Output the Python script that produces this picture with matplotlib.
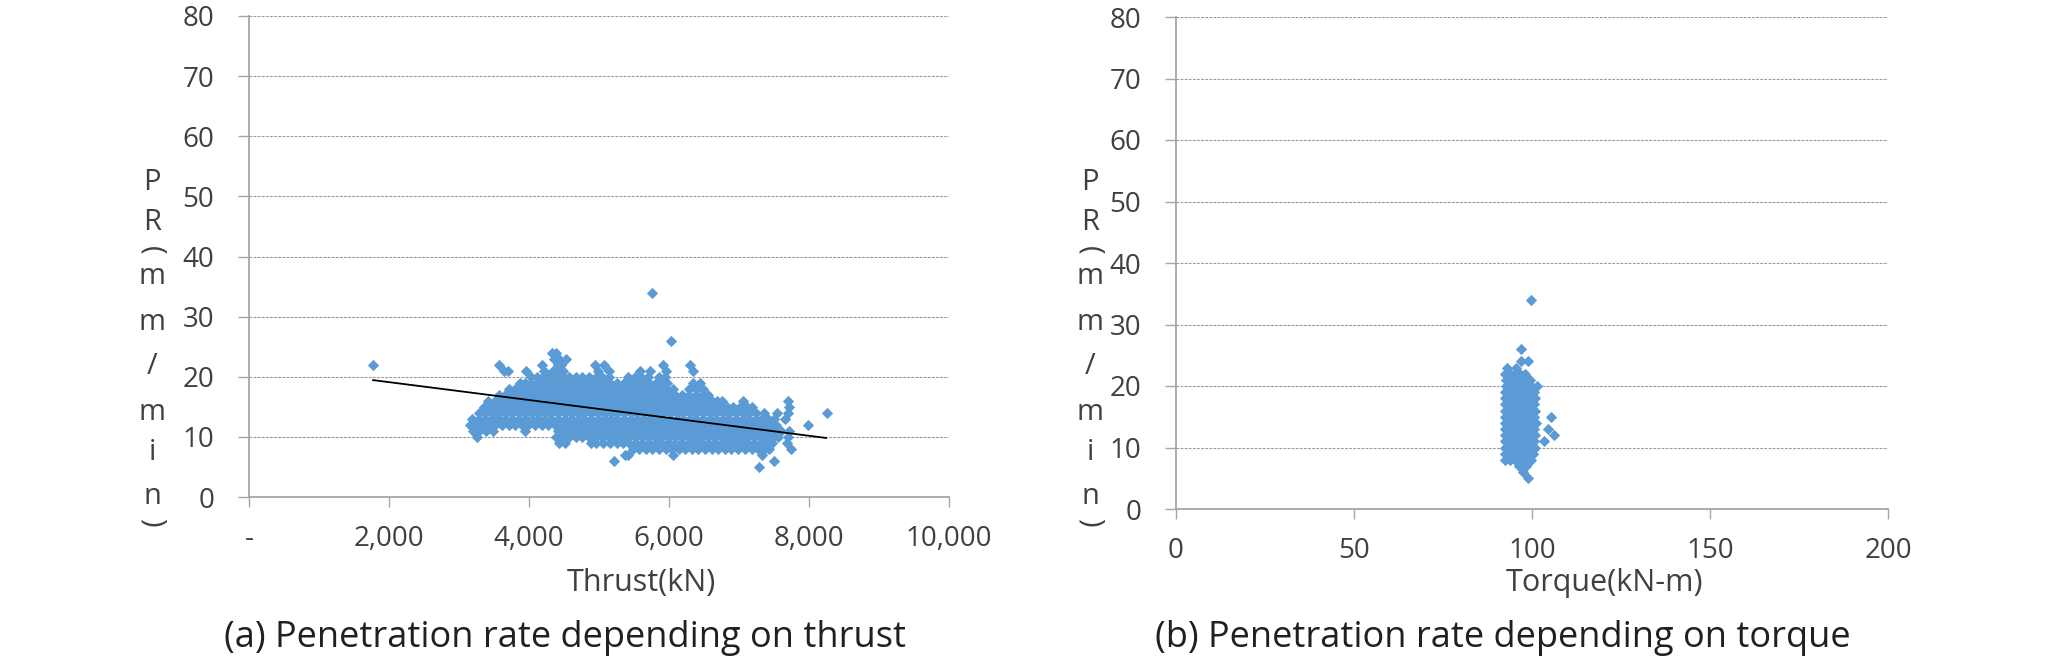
import numpy as np
import matplotlib
matplotlib.use('Agg')
import matplotlib.pyplot as plt

plt.rcParams['font.family'] = ['Open Sans', 'DejaVu Sans']

# ---------------- data: (a) thrust (kN) grouped by penetration rate (mm/min)
thrust_pr5 = [7280]
thrust_pr6 = [5220, 7500]
thrust_pr7 = [5370, 5410, 6050, 7330]
thrust_pr8 = [5480, 5570, 5670, 5760, 5850, 5950, 6040, 6140, 6230, 6330, 6420, 6510,
              6610, 6700, 6800, 6890, 6990, 7080, 7180, 7270, 7370, 7430, 7740]
thrust_pr9 = [4430, 4520, 4880, 4960, 5060, 5150, 5250, 5340, 5430, 5530, 5620, 5720,
              5810, 5900, 6000, 6090, 6190, 6280, 6380, 6470, 6560, 6660, 6750, 6850,
              6940, 7040, 7130, 7220, 7320, 7410, 7470, 7680]
thrust_pr10 = [3250, 4390, 4480, 4570, 4670, 4760, 4860, 4950, 5040, 5140, 5230, 5330,
               5420, 5510, 5610, 5700, 5800, 5890, 5980, 6080, 6170, 6270, 6360, 6450,
               6550, 6640, 6740, 6830, 6920, 7020, 7110, 7210, 7300, 7390, 7490, 7560,
               7700]
thrust_pr11 = [3200, 3290, 3390, 3480, 3940, 4420, 4520, 4610, 4710, 4800, 4900, 4990,
               5080, 5180, 5270, 5370, 5460, 5550, 5650, 5740, 5840, 5930, 6020, 6120,
               6210, 6310, 6400, 6490, 6590, 6680, 6780, 6870, 6960, 7060, 7150, 7250,
               7340, 7430, 7530, 7600, 7720]
thrust_pr12 = [3150, 3240, 3330, 3430, 3520, 3620, 3710, 3800, 3900, 3990, 4090, 4180,
               4270, 4370, 4460, 4560, 4650, 4740, 4840, 4930, 5030, 5120, 5210, 5310,
               5400, 5500, 5590, 5680, 5780, 5870, 5970, 6060, 6150, 6250, 6340, 6440,
               6530, 6620, 6720, 6810, 6910, 7000, 7090, 7190, 7280, 7380, 7470, 7530,
               7990]
thrust_pr13 = [3180, 3280, 3370, 3470, 3560, 3660, 3750, 3850, 3940, 4040, 4130, 4230,
               4320, 4410, 4510, 4600, 4700, 4790, 4890, 4980, 5070, 5170, 5260, 5360,
               5450, 5540, 5640, 5730, 5830, 5920, 6010, 6110, 6200, 6300, 6390, 6480,
               6580, 6670, 6770, 6860, 6950, 7050, 7140, 7240, 7330, 7420, 7500, 7660]
thrust_pr14 = [3290, 3380, 3480, 3570, 3670, 3760, 3850, 3950, 4040, 4140, 4230, 4320,
               4420, 4510, 4610, 4700, 4790, 4890, 4980, 5080, 5170, 5260, 5360, 5450,
               5550, 5640, 5730, 5830, 5920, 6020, 6110, 6200, 6300, 6390, 6490, 6580,
               6670, 6770, 6860, 6960, 7050, 7140, 7240, 7350, 7540, 7700, 8250]
thrust_pr15 = [3350, 3440, 3540, 3630, 3720, 3820, 3910, 4010, 4100, 4190, 4290, 4380,
               4480, 4570, 4660, 4760, 4850, 4950, 5040, 5130, 5230, 5320, 5420, 5510,
               5600, 5700, 5790, 5890, 5980, 6070, 6170, 6260, 6360, 6450, 6540, 6640,
               6730, 6830, 6920, 7010, 7110, 7190, 7710]
thrust_pr16 = [3410, 3510, 3600, 3700, 3790, 3880, 3980, 4070, 4170, 4260, 4350, 4450,
               4540, 4640, 4730, 4820, 4920, 5010, 5110, 5200, 5290, 5390, 5480, 5580,
               5670, 5760, 5860, 5950, 6050, 6140, 6230, 6330, 6420, 6520, 6610, 6680,
               6760, 7050, 7700]
thrust_pr17 = [3570, 3650, 3740, 3840, 3930, 4030, 4120, 4210, 4310, 4400, 4500, 4590,
               4680, 4780, 4870, 4970, 5060, 5150, 5250, 5340, 5440, 5530, 5620, 5720,
               5810, 5910, 6000, 6090, 6190, 6280, 6380, 6470, 6560]
thrust_pr18 = [3720, 3800, 3890, 3980, 4080, 4170, 4260, 4360, 4450, 4550, 4640, 4730,
               4830, 4920, 5020, 5110, 5200, 5300, 5390, 5490, 5580, 5670, 5770, 5860,
               5960, 6060, 6290, 6380, 6480]
thrust_pr19 = [3870, 3940, 4030, 4130, 4220, 4310, 4410, 4500, 4600, 4690, 4780, 4880,
               4970, 5070, 5160, 5250, 5350, 5440, 5540, 5630, 5720, 5820, 5910, 5970,
               6340, 6440]
thrust_pr20 = [4030, 4110, 4200, 4290, 4390, 4480, 4570, 4670, 4760, 4860, 4950, 5040,
               5140, 5420, 5510, 5600, 5700, 5850, 5940]
thrust_pr21 = [3640, 3700, 3960, 4220, 4340, 4420, 4490, 4990, 5140, 5590, 5730, 5960, 6340]
thrust_pr22 = [1773, 3573, 4190, 4410, 4460, 4940, 5070, 5920, 6300]
thrust_pr23 = [4360, 4430, 4530]
thrust_pr24 = [4330, 4390]
thrust_pr26 = [6030]
thrust_pr34 = [5760]

# linear trend line of (a)
trend_thrust = [1773, 8245]
trend_pr = [19.44, 9.82]

# ---------------- data: (b) torque (kN-m) grouped by penetration rate (mm/min)
torque_pr5 = [98.9]
torque_pr6 = [97.6]
torque_pr7 = [96.3, 98.2]
torque_pr8 = [92.3, 93.8, 95.2, 96.6, 98.0, 99.6]
torque_pr9 = [92.3, 93.6, 95.0, 96.4, 97.8, 99.2, 100.4]
torque_pr10 = [92.5, 93.9, 95.3, 96.7, 98.1, 99.5, 100.8]
torque_pr11 = [92.3, 93.6, 95.0, 96.4, 97.8, 99.2, 100.6, 103.4]
torque_pr12 = [92.4, 93.8, 95.2, 96.6, 98.0, 99.4, 100.9, 106.2]
torque_pr13 = [92.3, 93.6, 95.0, 96.4, 97.8, 99.2, 100.6, 104.4]
torque_pr14 = [92.5, 93.9, 95.3, 96.7, 98.1, 99.5, 101.2]
torque_pr15 = [92.3, 93.6, 95.0, 96.4, 97.8, 99.2, 100.6, 105.3]
torque_pr16 = [92.4, 93.8, 95.2, 96.6, 98.0, 99.4, 100.9]
torque_pr17 = [92.3, 93.6, 95.0, 96.4, 97.8, 99.2, 100.6]
torque_pr18 = [92.5, 93.9, 95.3, 96.7, 98.1, 99.5, 100.9]
torque_pr19 = [92.4, 93.8, 95.2, 96.6, 98.0, 99.4, 100.5]
torque_pr20 = [92.6, 94.0, 95.4, 96.8, 98.2, 99.6, 101.3]
torque_pr21 = [92.6, 94.0, 95.4, 96.8, 98.2, 99.4]
torque_pr22 = [92.5, 93.9, 95.3, 96.7, 98.1]
torque_pr23 = [92.9, 95.5]
torque_pr24 = [96.8, 98.9]
torque_pr26 = [96.8]
torque_pr34 = [99.8]

y_ticks = [0, 10, 20, 30, 40, 50, 60, 70, 80]
thrust_ticks = [0, 2000, 4000, 6000, 8000, 10000]
thrust_ticklabels = ['-', '2,000', '4,000', '6,000', '8,000', '10,000']
torque_ticks = [0, 50, 100, 150, 200]
torque_ticklabels = ['0', '50', '100', '150', '200']
ylabel_chars = ['P', 'R', '(', 'm', 'm', '/', 'm', 'i', 'n', ')']
xlabel_a = 'Thrust(kN)'
xlabel_b = 'Torque(kN-m)'
caption_a = '(a) Penetration rate depending on thrust'
caption_b = '(b) Penetration rate depending on torque'

# ---------------- assemble
thrust_rows = [(5, thrust_pr5), (6, thrust_pr6), (7, thrust_pr7), (8, thrust_pr8),
               (9, thrust_pr9), (10, thrust_pr10), (11, thrust_pr11), (12, thrust_pr12),
               (13, thrust_pr13), (14, thrust_pr14), (15, thrust_pr15), (16, thrust_pr16),
               (17, thrust_pr17), (18, thrust_pr18), (19, thrust_pr19), (20, thrust_pr20),
               (21, thrust_pr21), (22, thrust_pr22), (23, thrust_pr23), (24, thrust_pr24),
               (26, thrust_pr26), (34, thrust_pr34)]
torque_rows = [(5, torque_pr5), (6, torque_pr6), (7, torque_pr7), (8, torque_pr8),
               (9, torque_pr9), (10, torque_pr10), (11, torque_pr11), (12, torque_pr12),
               (13, torque_pr13), (14, torque_pr14), (15, torque_pr15), (16, torque_pr16),
               (17, torque_pr17), (18, torque_pr18), (19, torque_pr19), (20, torque_pr20),
               (21, torque_pr21), (22, torque_pr22), (23, torque_pr23), (24, torque_pr24),
               (26, torque_pr26), (34, torque_pr34)]

ax_thrust = np.concatenate([np.array(v, float) for _, v in thrust_rows])
ay_thrust = np.concatenate([np.full(len(v), k, float) for k, v in thrust_rows])
bx_torque = np.concatenate([np.array(v, float) for _, v in torque_rows])
by_torque = np.concatenate([np.full(len(v), k, float) for k, v in torque_rows])

W, H = 2067, 660
fig = plt.figure(figsize=(W / 100, H / 100), dpi=100)
ax1 = fig.add_axes([249 / W, (H - 497) / H, 700 / W, 481 / H])
ax2 = fig.add_axes([1176 / W, (H - 509) / H, 712 / W, 492 / H])

BLUE = '#5B9BD5'
GRAY = '#a6a6a6'
TXT = '#404040'
FS = 20

def style(ax, xlim, xticks, xlabels):
    ax.set_xlim(*xlim)
    ax.set_ylim(0, 80)
    ax.set_xticks(xticks)
    ax.set_xticklabels(xlabels)
    ax.set_yticks(y_ticks)
    for s in ('top', 'right'):
        ax.spines[s].set_visible(False)
    for s in ('left', 'bottom'):
        ax.spines[s].set_color(GRAY)
        ax.spines[s].set_linewidth(1.3)
    ax.yaxis.grid(True, linestyle=(0, (2.5, 1.2)), color='#9a9a9a', linewidth=0.8)
    ax.set_axisbelow(True)
    ax.tick_params(axis='y', direction='out', length=8, width=1, color=GRAY,
                   pad=17, labelsize=FS, labelcolor=TXT)
    ax.tick_params(axis='x', direction='out', length=7, width=1, color=GRAY,
                   pad=13, labelsize=FS, labelcolor=TXT)

style(ax1, (0, 10000), thrust_ticks, thrust_ticklabels)
style(ax2, (0, 200), torque_ticks, torque_ticklabels)

ax1.scatter(ax_thrust, ay_thrust, marker='D', s=33, color=BLUE, linewidths=0, zorder=3)
ax1.plot(trend_thrust, trend_pr, color='black', linewidth=1.3, zorder=4)
ax2.scatter(bx_torque, by_torque, marker='D', s=33, color=BLUE, linewidths=0, zorder=3)

def fx(px):
    return px / W

def fy(py):
    return 1 - py / H

ylabel_y = [182, 222, 250, 277, 323, 367, 412, 453, 497, 522]
for cx in (152, 1090):
    for ch, py in zip(ylabel_chars, ylabel_y):
        rot = -90 if ch in '()' else 0
        fig.text(fx(cx), fy(py), ch, ha='center', va='center', rotation=rot,
                 fontsize=21, color=TXT)

fig.text(fx(641), fy(583), xlabel_a, ha='center', va='center', fontsize=22, color=TXT)
fig.text(fx(1604), fy(583), xlabel_b, ha='center', va='center', fontsize=22, color=TXT)
fig.text(fx(565), fy(638), caption_a, ha='center', va='center', fontsize=26, color='#202020')
fig.text(fx(1503), fy(638), caption_b, ha='center', va='center', fontsize=26, color='#202020')

fig.savefig('out.png', dpi=100, facecolor='white')
